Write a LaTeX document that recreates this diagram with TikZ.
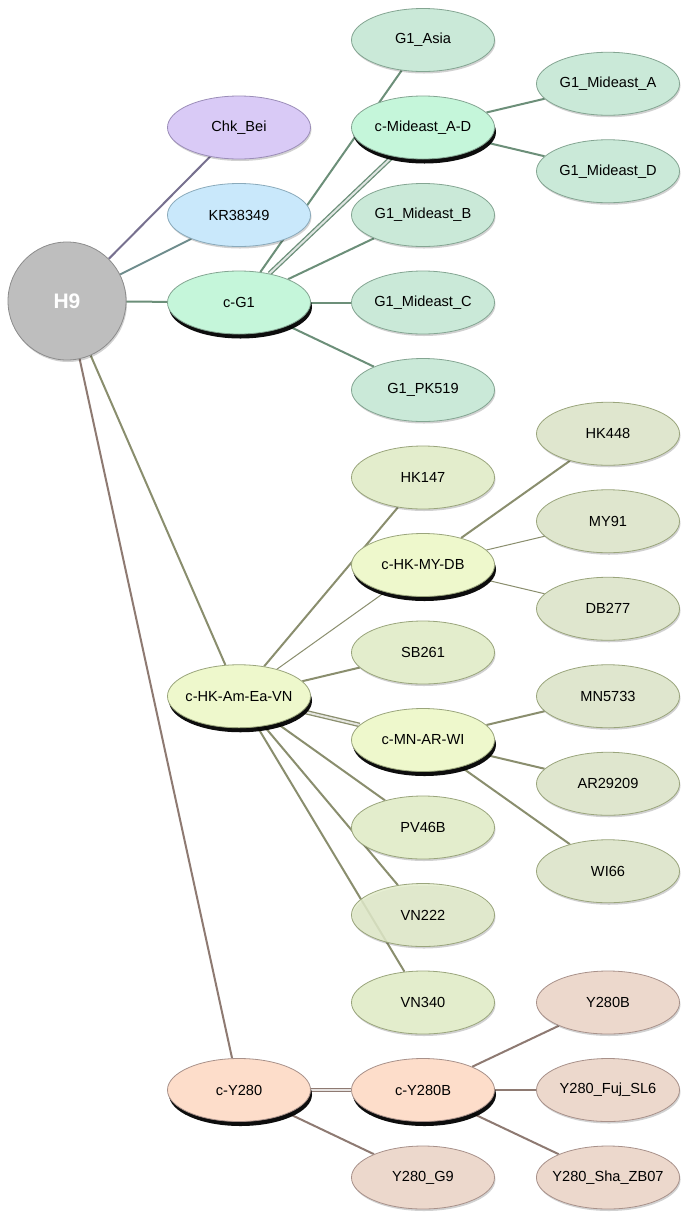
\documentclass[tikz,border=0pt]{standalone}
\usepackage{fontspec}
\setmainfont{Liberation Sans}
\usetikzlibrary{shapes.geometric,shadows,backgrounds}
\definecolor{hgray}{HTML}{BEBEBE}
\definecolor{hgrayd}{HTML}{8C8C8C}
\definecolor{lav}{HTML}{D9CAF6}
\definecolor{lavd}{HTML}{9B8DB8}
\definecolor{sky}{HTML}{C9E8FB}
\definecolor{skyd}{HTML}{8AAABB}
\definecolor{mintc}{HTML}{C5F6DA}
\definecolor{mintl}{HTML}{CAE9D8}
\definecolor{mintd}{HTML}{84A592}
\definecolor{limec}{HTML}{EEF8CC}
\definecolor{limem}{HTML}{E3EDCC}
\definecolor{limer}{HTML}{DFE6CE}
\definecolor{limed}{HTML}{9AA57C}
\definecolor{peachc}{HTML}{FDDDCA}
\definecolor{peachl}{HTML}{ECD8CC}
\definecolor{peachd}{HTML}{A8918A}
\definecolor{eP}{HTML}{77708F}
\definecolor{eT}{HTML}{6E8C8C}
\definecolor{eG}{HTML}{6C8F79}
\definecolor{eO}{HTML}{8A8E6E}
\definecolor{eB}{HTML}{8E7A72}
\begin{document}
\begin{tikzpicture}[x=1pt,y=-1pt,
  base/.style={ellipse, minimum width=143pt, minimum height=63pt,
    inner xsep=-5pt, inner ysep=0pt, line width=0.8pt,
    font=\fontsize{14.6}{17}\selectfont},
  leaf/.style={base, drop shadow={shadow xshift=1pt, shadow yshift=-2pt, opacity=0.18, fill=black}},
  clus/.style={base, drop shadow={shadow xshift=1.5pt, shadow yshift=-4.5pt, opacity=0.95, fill=black}},
  gleaf/.style={leaf, fill=mintl, draw=mintd},
  gclus/.style={clus, fill=mintc, draw=mintd},
  mleaf/.style={leaf, fill=limem, draw=limed},
  rleaf/.style={leaf, fill=limer, draw=limed},
  hclus/.style={clus, fill=limec, draw=limed},
  yleaf/.style={leaf, fill=peachl, draw=peachd},
  yclus/.style={clus, fill=peachc, draw=peachd},
  edg/.style={line width=2pt, draw=#1},
  thinedg/.style={line width=1pt, draw=#1},
  dbl/.style={line width=1.3pt, draw=#1, double=#1!22!white, double distance=2pt}
]
% nodes
\node[circle, minimum size=118pt, fill=hgray, draw=hgrayd, line width=0.8pt,
  drop shadow={shadow xshift=1pt, shadow yshift=-2pt, opacity=0.18, fill=black},
  font=\fontsize{21}{24}\selectfont\bfseries, text=white] (H9) at (67,301) {H9};
\node[leaf, fill=lav, draw=lavd] (chk) at (239,127.5) {Chk\_Bei};
\node[leaf, fill=sky, draw=skyd] (kr) at (239,215) {KR38349};
\node[gclus] (cg1) at (239,302.5) {c-G1};
\node[gleaf] (g1asia) at (423,40) {G1\_Asia};
\node[gclus] (cmid) at (423,127.5) {c-Mideast\_A-D};
\node[gleaf] (g1mb) at (423,215) {G1\_Mideast\_B};
\node[gleaf] (g1mc) at (423,302.5) {G1\_Mideast\_C};
\node[gleaf] (g1pk) at (423,390) {G1\_PK519};
\node[gleaf] (g1ma) at (608,83.75) {G1\_Mideast\_A};
\node[gleaf] (g1md) at (608,171.25) {G1\_Mideast\_D};
\node[mleaf] (hk147) at (423,477.5) {HK147};
\node[hclus] (chkmy) at (423,565) {c-HK-MY-DB};
\node[mleaf] (sb261) at (423,652.5) {SB261};
\node[hclus] (cmn) at (423,740) {c-MN-AR-WI};
\node[mleaf] (pv) at (423,827.5) {PV46B};
\node[mleaf, fill opacity=0.85, text opacity=1] (vn222) at (423,915) {VN222};
\node[mleaf] (vn340) at (423,1002.5) {VN340};
\node[rleaf] (hk448) at (608,433.75) {HK448};
\node[rleaf] (my91) at (608,521.25) {MY91};
\node[rleaf] (db277) at (608,608.75) {DB277};
\node[rleaf] (mn5733) at (608,696.25) {MN5733};
\node[rleaf] (ar) at (608,783.75) {AR29209};
\node[rleaf] (wi66) at (608,871.25) {WI66};
\node[hclus] (chkam) at (239,696.25) {c-HK-Am-Ea-VN};
\node[yclus] (cy280) at (239,1090) {c-Y280};
\node[yclus] (cy280b) at (423,1090) {c-Y280B};
\node[yleaf] (y280b) at (608,1002.5) {Y280B};
\node[yleaf] (fuj) at (608,1090) {Y280\_Fuj\_SL6};
\node[yleaf] (g9) at (423,1177.5) {Y280\_G9};
\node[yleaf] (sha) at (608,1177.5) {Y280\_Sha\_ZB07};
% edges
\begin{scope}[on background layer]
\fill[white] (0,0) rectangle (689,1224);
\draw[edg=eP] (H9) -- (chk);
\draw[edg=eT] (H9) -- (kr);
\draw[edg=eG] (H9) -- (cg1);
\draw[edg=eO] (H9) -- (chkam);
\draw[edg=eB] (H9) -- (cy280);
\draw[edg=eG] (cg1) -- (g1asia);
\draw[dbl=eG] (cg1) -- (cmid);
\draw[edg=eG] (cg1) -- (g1mb);
\draw[edg=eG] (cg1) -- (g1mc);
\draw[edg=eG] (cg1) -- (g1pk);
\draw[edg=eG] (cmid) -- (g1ma);
\draw[edg=eG] (cmid) -- (g1md);
\draw[edg=eO] (chkam) -- (hk147);
\draw[thinedg=eO] (chkam) -- (chkmy);
\draw[edg=eO] (chkam) -- (sb261);
\draw[dbl=eO] (chkam) -- (cmn);
\draw[edg=eO] (chkam) -- (pv);
\draw[edg=eO] (chkam) -- (vn222);
\draw[edg=eO] (chkam) -- (vn340);
\draw[edg=eO] (chkmy) -- (hk448);
\draw[thinedg=eO] (chkmy) -- (my91);
\draw[thinedg=eO] (chkmy) -- (db277);
\draw[edg=eO] (cmn) -- (mn5733);
\draw[edg=eO] (cmn) -- (ar);
\draw[edg=eO] (cmn) -- (wi66);
\draw[dbl=eB] (cy280) -- (cy280b);
\draw[edg=eB] (cy280) -- (g9);
\draw[edg=eB] (cy280b) -- (y280b);
\draw[edg=eB] (cy280b) -- (fuj);
\draw[edg=eB] (cy280b) -- (sha);
\end{scope}
\useasboundingbox (0,0) rectangle (689,1224);
\end{tikzpicture}
\end{document}
